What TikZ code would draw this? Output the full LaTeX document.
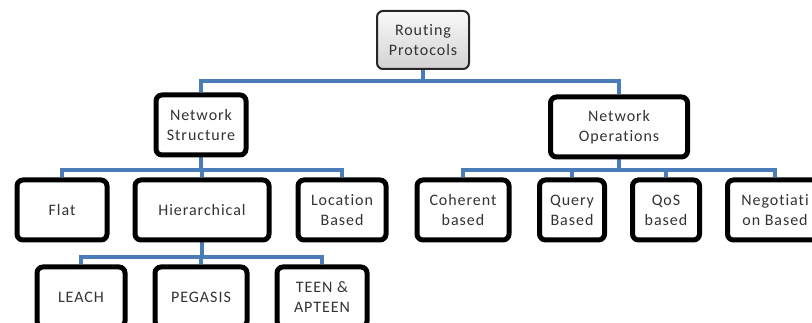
\documentclass[tikz,border=0pt]{standalone}
\usepackage{fontspec}
\setmainfont{Carlito}[Ligatures=NoCommon,LetterSpace=6]
\usetikzlibrary{backgrounds}

\definecolor{busblue}{RGB}{74,124,186}

\begin{document}
\begin{tikzpicture}[x=1pt,y=-1pt,
    box/.style={draw=black,line width=5pt,rounded corners=6pt,fill=white,
      align=center,inner sep=1pt,minimum height=60pt,
      font=\fontsize{16}{20}\selectfont,text=black!80},
    topbox/.style={draw=black!85,line width=2pt,rounded corners=6pt,
      top color=white!95!gray,bottom color=gray!35,align=center,
      minimum width=92pt,minimum height=58pt,
      font=\fontsize{16}{20}\selectfont,text=black!80},
    bus/.style={draw=busblue,line width=3.5pt}]
  \path[use as bounding box,clip] (0,0) rectangle (812,323);

  \node[topbox] (root) at (423,40) {Routing\\Protocols};

  \node[box,minimum width=90pt] (struct) at (201,125) {Network\\Structure};
  \node[box,minimum width=137pt] (ops) at (619,127) {Network\\Operations};

  \node[box,minimum width=90pt] (flat) at (62,210) {Flat};
  \node[box,minimum width=134pt] (hier) at (202,210) {Hierarchical};
  \node[box,minimum width=88pt] (loc) at (342,210) {Location\\Based};

  \node[box,minimum width=92pt] (coh) at (463,210) {Coherent\\based};
  \node[box,minimum width=65pt] (query) at (572,210) {Query\\Based};
  \node[box,minimum width=67pt] (qos) at (666,210) {QoS\\based};
  \node[box,minimum width=95pt] (neg) at (775,210) {Negotiati\\on Based};

  \node[box,minimum width=88pt] (leach) at (81,297) {LEACH};
  \node[box,minimum width=92pt] (pegasis) at (201,297) {PEGASIS};
  \node[box,minimum width=90pt] (teen) at (322,297) {TEEN \&\\APTEEN};

  % elbow links: child top -> bus -> parent bottom
  \begin{scope}[on background layer]
    \foreach \c/\p/\y in {struct/root/81,ops/root/81,
        flat/struct/170,hier/struct/170,loc/struct/170,
        coh/ops/170,query/ops/170,qos/ops/170,neg/ops/170,
        leach/hier/257,pegasis/hier/257,teen/hier/257}
      \draw[bus] (\c.north) -- (\c.north |- 0,\y) -| (\p.south);
  \end{scope}
\end{tikzpicture}
\end{document}
